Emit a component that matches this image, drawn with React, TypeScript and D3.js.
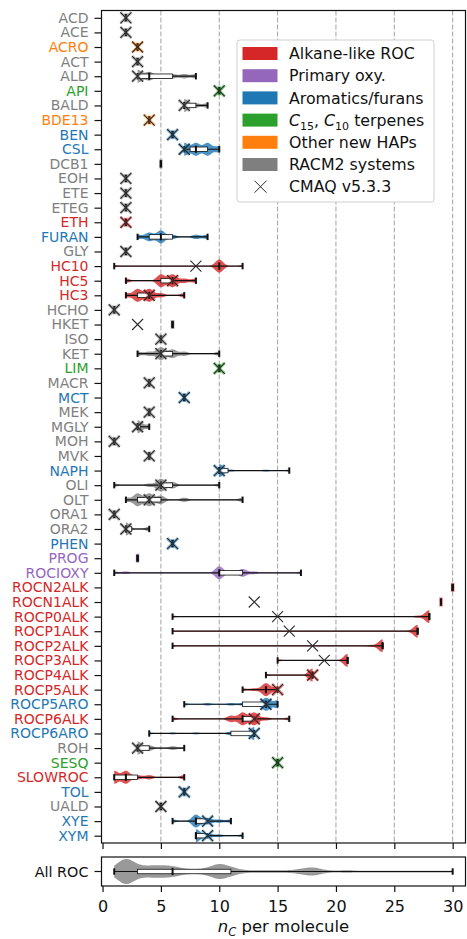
import React, { useEffect, useRef } from 'react';
import * as d3 from 'd3';

// species on the y axis, top to bottom
const species = [
  'ACD', 'ACE', 'ACRO', 'ACT', 'ALD', 'API', 'BALD', 'BDE13', 'BEN', 'CSL',
  'DCB1', 'EOH', 'ETE', 'ETEG', 'ETH', 'FURAN', 'GLY', 'HC10', 'HC5', 'HC3',
  'HCHO', 'HKET', 'ISO', 'KET', 'LIM', 'MACR', 'MCT', 'MEK', 'MGLY', 'MOH',
  'MVK', 'NAPH', 'OLI', 'OLT', 'ORA1', 'ORA2', 'PHEN', 'PROG', 'ROCIOXY', 'ROCN2ALK',
  'ROCN1ALK', 'ROCP0ALK', 'ROCP1ALK', 'ROCP2ALK', 'ROCP3ALK', 'ROCP4ALK', 'ROCP5ALK', 'ROCP5ARO', 'ROCP6ALK', 'ROCP6ARO',
  'ROH', 'SESQ', 'SLOWROC', 'TOL', 'UALD', 'XYE', 'XYM',
];

const groups = [
  'racm', 'racm', 'hap', 'racm', 'racm', 'terp', 'racm', 'hap', 'aro', 'aro',
  'racm', 'racm', 'racm', 'racm', 'alk', 'aro', 'racm', 'alk', 'alk', 'alk',
  'racm', 'racm', 'racm', 'racm', 'terp', 'racm', 'aro', 'racm', 'racm', 'racm',
  'racm', 'aro', 'racm', 'racm', 'racm', 'racm', 'aro', 'oxy', 'oxy', 'alk',
  'alk', 'alk', 'alk', 'alk', 'alk', 'alk', 'alk', 'aro', 'alk', 'aro',
  'racm', 'terp', 'alk', 'aro', 'racm', 'aro', 'aro',
];

// carbon numbers of the member compounds of each species
const members: number[][] = [
  [2], [2], [3], [3], [3, 3, 3, 4, 4, 5, 6, 7, 8], [10], [7, 7, 7, 8, 9], [4], [6], [7, 7, 8, 8, 9, 9, 10],
  [5], [2], [2], [2], [2], [3, 4, 4, 5, 5, 5, 6, 8, 9], [2], [1, 10, 10, 10, 10, 10, 10, 10, 12], [2, 5, 5, 5, 6, 6, 6, 7, 8], [2, 3, 3, 3, 4, 4, 4, 5, 7],
  [1], [6], [5], [3, 4, 5, 5, 5, 6, 6, 7, 10], [10], [4], [7], [4], [3, 3, 3, 4], [1],
  [4], [10, 10, 10, 10, 10, 10, 10, 11, 14, 16], [1, 4, 5, 5, 5, 5, 6, 6, 10], [2, 3, 3, 3, 4, 4, 4, 5, 5, 7, 12], [1], [2, 2, 2, 4], [6], [3], [1, 2, 10, 10, 10, 10, 10, 11, 12, 12, 12, 13, 17], [30],
  [29], [6, 27, 28, 28, 28, 28, 28, 28, 28], [6, 8, 25, 26, 27, 27, 27, 27, 27, 27, 27, 27, 27, 27, 27, 27, 27], [6, 23, 24, 24, 24, 24, 24, 24, 24], [15, 21, 21, 21, 21, 21, 21], [14, 18, 18, 18, 18, 18, 18], [12, 13, 14, 14, 14, 14, 14, 15, 15], [7, 9, 11, 12, 13, 14, 14, 14, 14, 14, 15, 15, 15], [6, 11, 11, 12, 12, 12, 12, 13, 13, 13, 13, 14, 16], [4, 6, 8, 11, 11, 12, 13, 13, 13, 13, 13, 13, 13],
  [3, 3, 3, 3, 3, 3, 3, 4, 4, 4, 6, 6, 7], [15], [1, 1, 1, 2, 2, 2, 3, 4, 7], [7], [5], [6, 8, 8, 8, 8, 9, 9, 10, 11], [8, 8, 8, 8, 8, 9, 9, 10, 12],
];

// CMAQ v5.3.3 carbon number (null = not in CMAQ)
const cmaq: (number | null)[] = [
  2, 2, 3, 3, 3, 10, 7, 4, 6, 7,
  null, 2, 2, 2, 2, null, 2, 8, 6, 4,
  1, 3, 5, 5, 10, 4, 7, 4, 3, 1,
  4, 10, 5, 4, 1, 2, 6, null, null, null,
  13, 15, 16, 18, 19, 18, 15, 14, 13, 13,
  3, 15, null, 7, 5, 9, 9,
];

// all ROC: count of compounds per carbon number 1..30
const allRocNc = d3.range(1, 31);
const allRocCounts = [6, 33, 8, 11, 11, 11, 4, 4, 5, 18, 8, 2, 2, 2, 2, 2, 4, 10, 2, 1, 3, 1, 1, 1, 1, 1, 1, 1, 1, 1];

const legendKeys = ['alk', 'oxy', 'aro', 'terp', 'hap', 'racm'];
const legendLabels = ['Alkane-like ROC', 'Primary oxy.', 'Aromatics/furans', 'C15, C10 terpenes', 'Other new HAPs', 'RACM2 systems'];
const groupColors: Record<string, string> = {
  alk: '#d62728', oxy: '#9467bd', aro: '#1f77b4', terp: '#2ca02c', hap: '#ff7f0e', racm: '#7f7f7f',
};
const xTicks = [0, 5, 10, 15, 20, 25, 30];

function kde(vals: number[], bw: number, lo: number, hi: number, n = 200) {
  const pts = d3.range(n + 1).map(i => lo + (hi - lo) * i / n);
  return pts.map(p => [p, d3.sum(vals, v => Math.exp(-0.5 * ((p - v) / bw) ** 2))] as [number, number]);
}

function App() {
  const svgRef = useRef<SVGSVGElement>(null);
  const width = 467;
  const height = 939;

  useEffect(() => {
    const svg = d3.select(svgRef.current);
    svg.selectAll('*').remove();

    const m = { left: 101.5, right: 465.5, top: 10.5, bottom: 843 };
    const roc = { top: 857, bottom: 886 };
    const font = 'DejaVu Sans, sans-serif';
    const ink = '#111';

    const x = d3.scaleLinear().domain([-0.09, 31.1]).range([m.left, m.right]);
    const y = d3.scalePoint<string>().domain(species).range([m.top, m.bottom]).padding(0.5);

    // grid
    svg.append('g')
      .selectAll('line')
      .data(xTicks.filter(t => t > 0))
      .join('line')
      .attr('x1', d => x(d)).attr('x2', d => x(d))
      .attr('y1', m.top).attr('y2', m.bottom)
      .attr('stroke', '#8c8c8c').attr('stroke-width', 0.8).attr('stroke-dasharray', '5,2');

    const drawRow = (g: any, vals: number[], cy: number, color: string, hw: number, bw: number, boxH: number) => {
      const sorted = vals.slice().sort(d3.ascending);
      const lo = sorted[0];
      const hi = sorted[sorted.length - 1];
      if (hi > lo) {
        const dens = kde(sorted, bw, lo, hi);
        const dmax = d3.max(dens, d => d[1]) as number;
        const area = d3.area<[number, number]>()
          .x(d => x(d[0]))
          .y0(d => cy - hw * Math.max(d[1] / dmax, 0.07))
          .y1(d => cy + hw * Math.max(d[1] / dmax, 0.07));
        g.append('path').attr('d', area(dens)).attr('fill', color).attr('fill-opacity', 0.8);
      } else {
        g.append('rect')
          .attr('x', x(lo) - 1.8).attr('y', cy - 4.5)
          .attr('width', 3.6).attr('height', 9)
          .attr('fill', color).attr('fill-opacity', 0.6);
      }
      const q1 = d3.quantile(sorted, 0.25) as number;
      const med = d3.quantile(sorted, 0.5) as number;
      const q3 = d3.quantile(sorted, 0.75) as number;
      g.append('line')
        .attr('x1', x(lo)).attr('x2', x(hi)).attr('y1', cy).attr('y2', cy)
        .attr('stroke', ink).attr('stroke-width', 1.2);
      g.append('rect')
        .attr('x', x(q1)).attr('y', cy - boxH / 2)
        .attr('width', Math.max(x(q3) - x(q1), 0)).attr('height', boxH)
        .attr('fill', '#fff').attr('stroke', ink).attr('stroke-width', 0.8);
      [lo, hi].forEach(v => {
        g.append('line')
          .attr('x1', x(v)).attr('x2', x(v)).attr('y1', cy - 3.2).attr('y2', cy + 3.2)
          .attr('stroke', ink).attr('stroke-width', 2);
      });
      g.append('line')
        .attr('x1', x(med)).attr('x2', x(med)).attr('y1', cy - 3.6).attr('y2', cy + 3.6)
        .attr('stroke', ink).attr('stroke-width', 2);
    };

    const xMark = (g: any, cx: number, cy: number, r: number, color: string, w: number, op = 1) => {
      g.append('path')
        .attr('d', `M${cx - r},${cy - r}L${cx + r},${cy + r}M${cx - r},${cy + r}L${cx + r},${cy - r}`)
        .attr('stroke', color).attr('stroke-width', w).attr('stroke-opacity', op).attr('fill', 'none');
    };

    // violins + boxes
    const rows = svg.append('g');
    species.forEach((s, i) => {
      drawRow(rows.append('g'), members[i], y(s) as number, groupColors[groups[i]], 6.5, 0.34, 4.5);
    });

    // CMAQ markers
    const marks = svg.append('g');
    species.forEach((s, i) => {
      const c = cmaq[i];
      if (c === null) return;
      const cy = y(s) as number;
      if (members[i].includes(c)) xMark(marks, x(c), cy, 5.5, groupColors[groups[i]], 3, 0.55);
      xMark(marks, x(c), cy, 5.5, '#2a2a2a', 1.1);
    });

    // frames
    svg.append('rect')
      .attr('x', m.left).attr('y', m.top).attr('width', m.right - m.left).attr('height', m.bottom - m.top)
      .attr('fill', 'none').attr('stroke', ink).attr('stroke-width', 1.2);

    // y axis
    const yAxis = svg.append('g')
      .attr('transform', `translate(${m.left},0)`)
      .call(d3.axisLeft(y).tickSize(7).tickPadding(6));
    yAxis.select('.domain').remove();
    yAxis.selectAll('line').attr('stroke', ink).attr('stroke-width', 1.2);
    yAxis.selectAll('text')
      .attr('font-family', font).attr('font-size', 14)
      .attr('fill', (d: any) => groupColors[groups[species.indexOf(d)]]);

    // ticks under main panel
    const xTop = svg.append('g')
      .attr('transform', `translate(0,${m.bottom})`)
      .call(d3.axisBottom(x).tickValues(xTicks).tickSize(6).tickFormat(() => ''));
    xTop.select('.domain').remove();
    xTop.selectAll('line').attr('stroke', ink).attr('stroke-width', 1.2);

    // legend
    const lg = svg.append('g');
    lg.append('rect')
      .attr('x', 237).attr('y', 40).attr('width', 197).attr('height', 162).attr('rx', 3)
      .attr('fill', '#fff').attr('stroke', '#cfcfcf').attr('stroke-width', 1);
    legendKeys.forEach((k, i) => {
      const cy = 53.5 + i * 22.2;
      lg.append('rect')
        .attr('x', 242.5).attr('y', cy - 6.5).attr('width', 35).attr('height', 13)
        .attr('fill', groupColors[k]);
      const t = lg.append('text')
        .attr('x', 289).attr('y', cy + 5.7)
        .attr('font-family', font).attr('font-size', 15.8).attr('fill', ink);
      if (k === 'terp') {
        t.append('tspan').attr('font-style', 'italic').text('C');
        t.append('tspan').attr('font-size', 11).attr('dy', 4).text('15');
        t.append('tspan').attr('dy', -4).text(', ');
        t.append('tspan').attr('font-style', 'italic').text('C');
        t.append('tspan').attr('font-size', 11).attr('dy', 4).text('10');
        t.append('tspan').attr('dy', -4).text(' terpenes');
      } else {
        t.text(legendLabels[i]);
      }
    });
    const cmY = 53.5 + 6 * 22.2;
    xMark(lg, 260.5, cmY, 6, '#2a2a2a', 1);
    lg.append('text')
      .attr('x', 289).attr('y', cmY + 5.7)
      .attr('font-family', font).attr('font-size', 15.8).attr('fill', ink)
      .text('CMAQ v5.3.3');

    // all ROC panel
    const rocCy = (roc.top + roc.bottom) / 2;
    const allVals = d3.merge(allRocNc.map((n, i) => d3.range(allRocCounts[i]).map(() => n)));
    drawRow(svg.append('g'), allVals, rocCy, '#7f7f7f', 12.5, 0.7, 4.5);
    svg.append('rect')
      .attr('x', m.left).attr('y', roc.top).attr('width', m.right - m.left).attr('height', roc.bottom - roc.top)
      .attr('fill', 'none').attr('stroke', ink).attr('stroke-width', 1.2);
    svg.append('line')
      .attr('x1', m.left - 7).attr('x2', m.left).attr('y1', rocCy).attr('y2', rocCy)
      .attr('stroke', ink).attr('stroke-width', 1.2);
    svg.append('text')
      .attr('x', m.left - 13).attr('y', rocCy).attr('dy', '0.36em')
      .attr('text-anchor', 'end').attr('font-family', font).attr('font-size', 14.4).attr('fill', ink)
      .text('All ROC');

    // x axis
    const xAxis = svg.append('g')
      .attr('transform', `translate(0,${roc.bottom})`)
      .call(d3.axisBottom(x).tickValues(xTicks).tickSize(6).tickPadding(8.5).tickFormat(d3.format('d')));
    xAxis.select('.domain').remove();
    xAxis.selectAll('line').attr('stroke', ink).attr('stroke-width', 1.2);
    xAxis.selectAll('text').attr('font-family', font).attr('font-size', 16).attr('fill', ink);

    const xl = svg.append('text')
      .attr('x', (m.left + m.right) / 2).attr('y', 932)
      .attr('text-anchor', 'middle').attr('font-family', font).attr('font-size', 16.5).attr('fill', ink);
    xl.append('tspan').attr('font-style', 'italic').text('n');
    xl.append('tspan').attr('font-style', 'italic').attr('font-size', 11.5).attr('dy', 4).text('C');
    xl.append('tspan').attr('dy', -4).text(' per molecule');
  }, []);

  return (
    <svg
      ref={svgRef}
      width={width}
      height={height}
      style={{ position: 'absolute', left: 0, top: 0, background: '#fff' }}
    ></svg>
  );
}

export default App;
